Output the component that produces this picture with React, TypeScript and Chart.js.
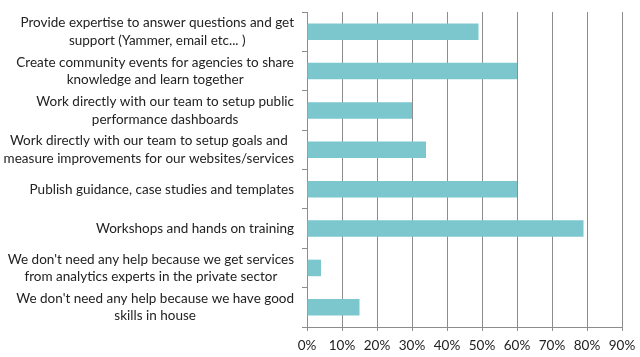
import React, { useEffect, useRef } from "react";
import { Chart, registerables } from "chart.js";

Chart.register(...registerables);

const categories: string[][] = [
  ["Provide expertise to answer questions and get", "support (Yammer, email etc... )"],
  ["Create community events for agencies to share", "knowledge and learn together"],
  ["Work directly with our team to setup public", "performance dashboards"],
  ["Work directly with our team to setup goals and", "measure improvements for our websites/services"],
  ["Publish guidance, case studies and templates"],
  ["Workshops and hands on training"],
  ["We don't need any help because we get services", "from analytics experts in the private sector"],
  ["We don't need any help because we have good", "skills in house"],
];
const values: number[] = [49, 60, 30, 34, 60, 79, 4, 15];
const xTicks: number[] = [0, 10, 20, 30, 40, 50, 60, 70, 80, 90];

const FONT = "Lato, 'Open Sans', sans-serif";
const FONT_SIZE = 13.5;
const GRID = "#8c8c8c";
const BAR = "#7bc7cd";

const labelPlugin = {
  id: "blockLabels",
  afterDraw(chart: any) {
    const ctx = chart.ctx;
    const y = chart.scales.y;
    const right = y.right - 13;
    ctx.save();
    ctx.font = `${FONT_SIZE}px ${FONT}`;
    ctx.fillStyle = "#222222";
    ctx.textBaseline = "middle";
    ctx.textAlign = "center";
    const lh = 17.5;
    categories.forEach((lines, i) => {
      const cy = y.getPixelForTick(i);
      const widest = Math.max(...lines.map((l) => ctx.measureText(l).width));
      const cx = right - widest / 2;
      const y0 = cy - ((lines.length - 1) * lh) / 2;
      lines.forEach((l, j) => ctx.fillText(l, cx, y0 + j * lh));
    });
    ctx.restore();
  },
};

export default function App() {
  const ref = useRef<HTMLCanvasElement>(null);
  useEffect(() => {
    document.body.style.margin = "0";
    const chart = new Chart(ref.current!, {
      type: "bar",
      data: {
        labels: categories.map((c) => c.join(" ")),
        datasets: [
          {
            data: values,
            backgroundColor: BAR,
            borderWidth: 0,
            categoryPercentage: 0.42,
            barPercentage: 1,
          },
        ],
      },
      options: {
        indexAxis: "y",
        responsive: false,
        animation: false,
        maintainAspectRatio: false,
        layout: { padding: { top: 12, right: 18, left: 0, bottom: 0 } },
        plugins: { legend: { display: false }, tooltip: { enabled: false } },
        scales: {
          x: {
            min: 0,
            max: 90,
            afterBuildTicks: (s: any) => {
              s.ticks = xTicks.map((v) => ({ value: v }));
            },
            afterFit: (s: any) => {
              s.height = 30;
              s.paddingRight = 0;
              s.paddingLeft = 0;
            },
            grid: { color: GRID, lineWidth: 1, tickLength: 4 },
            border: { color: GRID, width: 1 },
            ticks: {
              color: "#222222",
              font: { family: FONT, size: FONT_SIZE },
              padding: 7,
              callback: (v: any) => `${v}%`,
              maxRotation: 0,
            },
          },
          y: {
            afterFit: (s: any) => {
              s.width = 307;
            },
            grid: { display: true, drawOnChartArea: false, color: GRID, tickLength: 5, offset: true },
            border: { color: GRID, width: 1 },
            ticks: { display: false },
          },
        },
      },
      plugins: [labelPlugin],
    });
    return () => chart.destroy();
  }, []);
  return (
    <div style={{ width: 640, height: 357, background: "#fff" }}>
      <canvas ref={ref} width={640} height={357} />
    </div>
  );
}
